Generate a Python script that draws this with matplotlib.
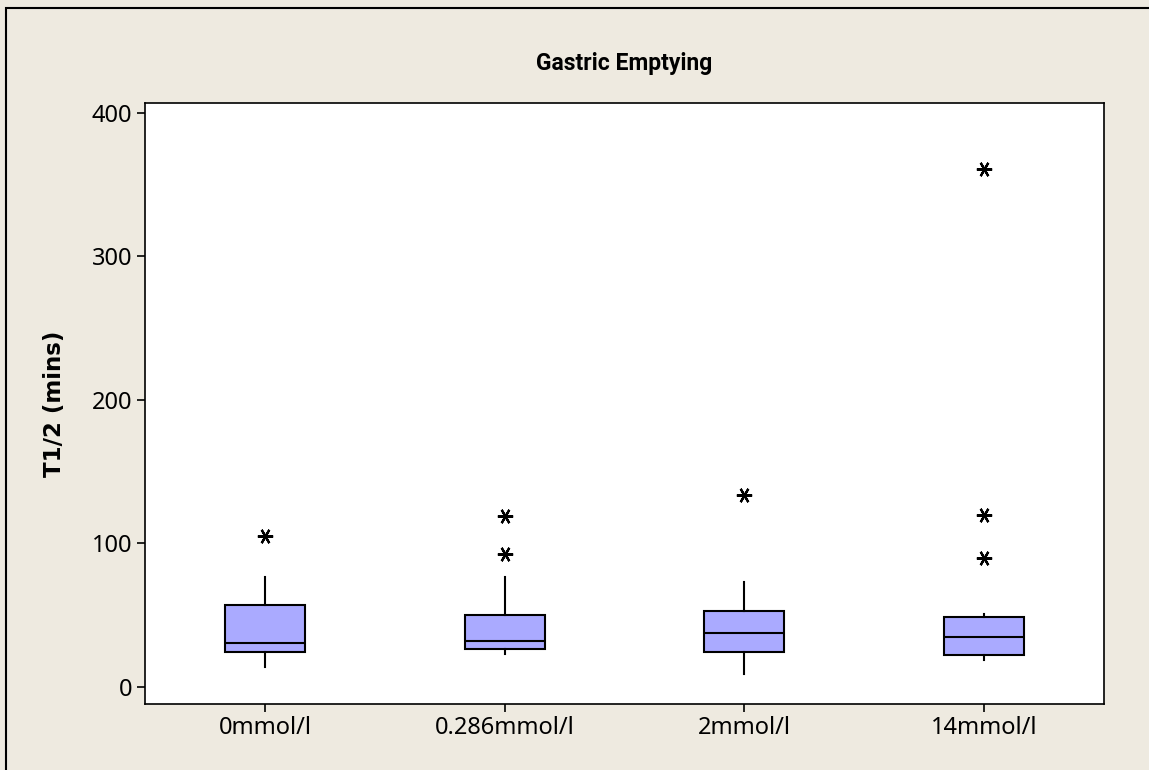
import matplotlib
matplotlib.use("Agg")
import matplotlib.pyplot as plt
from matplotlib.patches import Rectangle

categories = ["0mmol/l", "0.286mmol/l", "2mmol/l", "14mmol/l"]
q1 = [24, 26.5, 24, 22.5]
medians = [30.7, 32, 37.6, 35]
q3 = [57, 50, 53, 49]
whisker_low = [14, 23, 8.8, 18.8]
whisker_high = [76.7, 76.4, 73.4, 51]
outliers = [[105], [92.7, 119], [134], [90, 120, 360.8]]
yticks = [0, 100, 200, 300, 400]

plt.rcParams['font.family'] = ['Noto Sans', 'DejaVu Sans']

W, H = 1149, 770
fig = plt.figure(figsize=(W/100, H/100), dpi=100)
bg = "#EEEAE0"
fig.patch.set_facecolor(bg)
fig.patches.append(Rectangle((6/W, -0.2), 1.2, 1.2 - 8/H, transform=fig.transFigure,
                             facecolor="none", edgecolor="black", linewidth=1.5))

ax = fig.add_axes([145/W, (H-704)/H, (1104-145)/W, (704-103)/H])
ax.set_facecolor("white")

stats = []
for i in range(len(categories)):
    stats.append(dict(med=medians[i], q1=q1[i], q3=q3[i],
                      whislo=whisker_low[i], whishi=whisker_high[i],
                      fliers=outliers[i], label=categories[i]))

ax.bxp(stats, positions=range(1, len(categories)+1), widths=1/3,
       patch_artist=True, showcaps=False,
       boxprops=dict(facecolor="#AAAAFF", edgecolor="black", linewidth=1.5),
       medianprops=dict(color="black", linewidth=1.5),
       whiskerprops=dict(color="black", linewidth=1.5),
       flierprops=dict(marker=(6, 2, 90), markersize=11, markeredgecolor="black",
                       markeredgewidth=1.6, markerfacecolor="black"))

ax.set_xlim(0.5, 4.5)
ax.set_ylim(-12, 407)
ax.set_yticks(yticks)
ax.set_xticks(range(1, len(categories)+1))
ax.set_xticklabels(categories)
ax.tick_params(axis="both", labelsize=17, length=6, width=1.2, direction="out", pad=3)
for s in ax.spines.values():
    s.set_linewidth(1.2)
ax.set_ylabel("T1/2 (mins)", fontsize=16.5, fontweight="bold", labelpad=19,
              family=["DejaVu Sans"])
ax.set_title("Gastric Emptying", fontsize=16.5, fontweight="bold", pad=24,
             family=["Roboto", "DejaVu Sans"])

fig.savefig("out.png", dpi=100, facecolor=bg)
